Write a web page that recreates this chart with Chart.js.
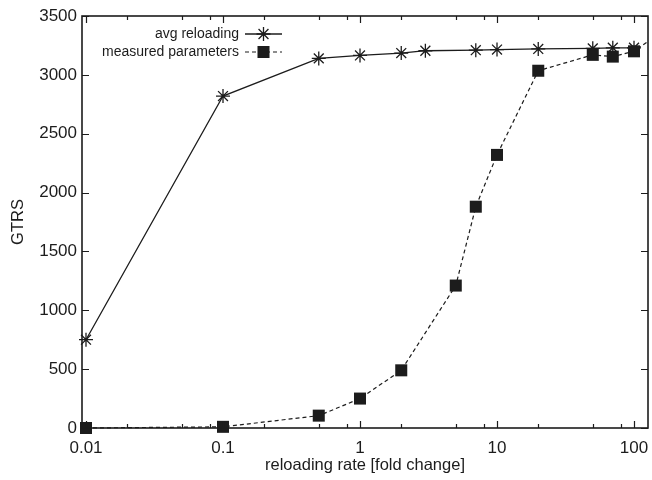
<!DOCTYPE html>
<html>
<head>
<meta charset="utf-8">
<script src="https://cdn.jsdelivr.net/npm/chart.js@4/dist/chart.umd.min.js"></script>
<style>
  html, body { margin: 0; padding: 0; background: #fff; }
  #wrap { width: 652px; height: 480px; }
</style>
</head>
<body>
<div id="wrap"><canvas id="c" width="652" height="480"></canvas></div>
<script>
// data
const avgRate = [0.01, 0.1, 0.5, 1, 2, 3, 7, 10, 20, 50, 70, 100];
const avgGTRS = [750, 2820, 3140, 3165, 3185, 3205, 3210, 3215, 3220, 3225, 3230, 3230];

// last point (200) lies outside the plotted range, only its line segment shows
const measRate = [0.01, 0.1, 0.5, 1, 2, 5, 7, 10, 20, 50, 70, 100, 200];
const measGTRS = [0, 10, 105, 250, 490, 1210, 1880, 2320, 3035, 3170, 3155, 3200, 3450];

const xMajorTicks = [0.01, 0.1, 1, 10, 100];
const xTickLabels = ['0.01', '0.1', '1', '10', '100'];
const xMinorTicks = [0.02, 0.05, 0.08, 0.2, 0.5, 0.8, 2, 5, 8, 20, 50, 80];
const yTicks = [0, 500, 1000, 1500, 2000, 2500, 3000, 3500];

const FONT = "'Liberation Sans', Arial, Helvetica, sans-serif";
const INK = '#1c1c1c';

/**
 * Frame + inward ticks on all four sides (gnuplot look)
 */
const framePlugin = {
  id: 'frame',
  afterDatasetsDraw(chart) {
    const { ctx, chartArea: a, scales: { x, y } } = chart;
    ctx.save();
    ctx.strokeStyle = INK;
    ctx.lineWidth = 1.2;
    ctx.beginPath();
    x.ticks.forEach(t => {
      const px = Math.round(x.getPixelForValue(t.value)) + 0.5;
      const len = xMajorTicks.includes(t.value) ? 7 : 4;
      ctx.moveTo(px, a.bottom); ctx.lineTo(px, a.bottom - len);
      ctx.moveTo(px, a.top); ctx.lineTo(px, a.top + len);
    });
    y.ticks.forEach(t => {
      const py = Math.round(y.getPixelForValue(t.value)) + 0.5;
      ctx.moveTo(a.left, py); ctx.lineTo(a.left + 7, py);
      ctx.moveTo(a.right, py); ctx.lineTo(a.right - 7, py);
    });
    ctx.stroke();
    ctx.lineWidth = 1.6;
    ctx.strokeRect(a.left, a.top, a.right - a.left, a.bottom - a.top);
    ctx.restore();
  }
};

/**
 * Legend: text right-aligned, line sample with marker to the right
 */
const keyPlugin = {
  id: 'key',
  afterDraw(chart) {
    const { ctx } = chart;
    const textRight = 239, x0 = 245, x1 = 282, rows = [34, 52];
    ctx.save();
    chart.data.datasets.forEach((ds, i) => {
      const yy = rows[i];
      ctx.font = `14px ${FONT}`;
      ctx.fillStyle = INK;
      ctx.textAlign = 'right';
      ctx.textBaseline = 'middle';
      ctx.fillText(ds.label, textRight, yy);

      ctx.strokeStyle = INK;
      ctx.lineWidth = ds.borderWidth;
      ctx.setLineDash(ds.borderDash || []);
      ctx.beginPath();
      ctx.moveTo(x0, yy); ctx.lineTo(x1, yy);
      ctx.stroke();
      ctx.setLineDash([]);
      ctx.lineWidth = ds.pointBorderWidth;
      Chart.helpers.drawPoint(ctx, {
        pointStyle: ds.pointStyle, radius: ds.pointRadius, rotation: 0, borderWidth: ds.pointBorderWidth
      }, (x0 + x1) / 2, yy);
    });
    ctx.restore();
  }
};

new Chart(document.getElementById('c'), {
  type: 'line',
  data: {
    datasets: [
      {
        label: 'avg reloading',
        data: avgRate.map((r, i) => ({ x: r, y: avgGTRS[i] })),
        borderColor: INK,
        borderWidth: 1.3,
        pointStyle: 'star',
        pointRadius: 7,
        pointBorderWidth: 1.3,
        pointBorderColor: INK,
        pointBackgroundColor: INK,
        tension: 0,
        order: 1,
        clip: { left: 12, right: 0, top: 0, bottom: 12 }
      },
      {
        label: 'measured parameters',
        data: measRate.map((r, i) => ({ x: r, y: measGTRS[i] })),
        borderColor: INK,
        borderWidth: 1.2,
        borderDash: [4, 3],
        pointStyle: 'rect',
        pointRadius: 8.5,
        pointBorderWidth: 0,
        pointBorderColor: INK,
        pointBackgroundColor: INK,
        tension: 0,
        order: 0,
        clip: { left: 12, right: 0, top: 0, bottom: 12 }
      }
    ]
  },
  options: {
    responsive: false,
    animation: false,
    layout: { autoPadding: false, padding: { top: 16, right: 4, left: 0, bottom: 0 } },
    plugins: {
      legend: { display: false },
      tooltip: { enabled: false }
    },
    scales: {
      x: {
        type: 'logarithmic',
        min: 0.00935,
        max: 126.5,
        afterBuildTicks: (scale) => {
          scale.ticks = [...xMajorTicks, ...xMinorTicks].sort((a, b) => a - b).map(v => ({ value: v }));
        },
        afterFit: (scale) => {
          scale.height = 52;
          scale.paddingLeft = 0;
          scale.paddingRight = 0;
        },
        grid: { display: false, drawTicks: false },
        border: { display: false },
        ticks: {
          autoSkip: false,
          maxRotation: 0,
          padding: 10,
          color: INK,
          font: { family: FONT, size: 17 },
          callback: (v) => {
            const k = xMajorTicks.indexOf(v);
            return k >= 0 ? xTickLabels[k] : '';
          }
        },
        title: {
          display: true,
          text: 'reloading rate [fold change]',
          color: INK,
          font: { family: FONT, size: 16.5 },
          padding: { top: 0, bottom: 5 }
        }
      },
      y: {
        min: 0,
        max: 3500,
        afterBuildTicks: (scale) => { scale.ticks = yTicks.map(v => ({ value: v })); },
        afterFit: (scale) => {
          scale.width = 82;
          scale.paddingTop = 0;
          scale.paddingBottom = 0;
        },
        grid: { display: false, drawTicks: false },
        border: { display: false },
        ticks: {
          padding: 5,
          color: INK,
          font: { family: FONT, size: 17 },
          callback: (v) => String(v)
        },
        title: {
          display: true,
          text: 'GTRS',
          color: INK,
          font: { family: FONT, size: 16.5 },
          padding: { top: 9, bottom: 0 }
        }
      }
    }
  },
  plugins: [framePlugin, keyPlugin]
});
</script>
</body>
</html>
